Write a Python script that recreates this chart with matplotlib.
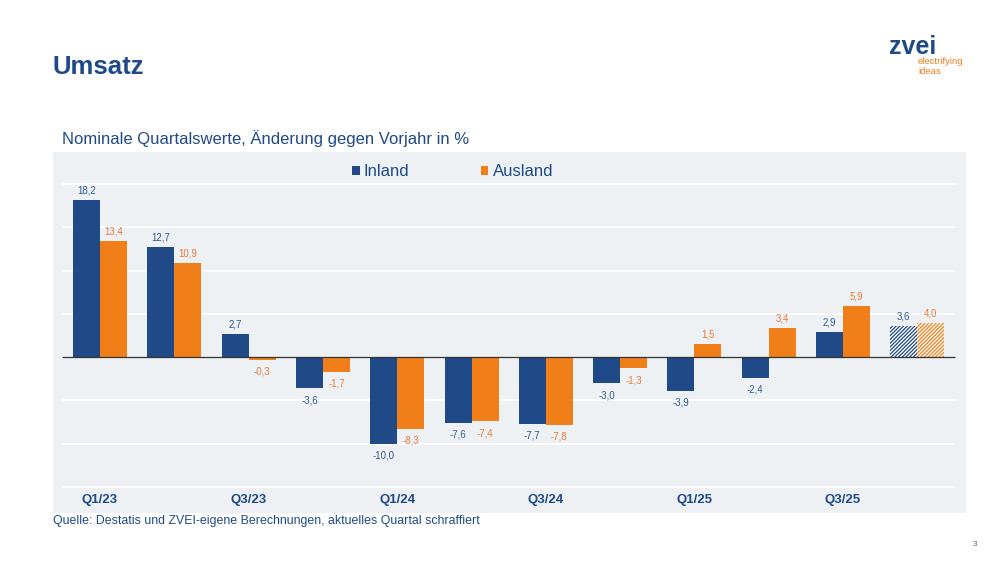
import numpy as np
import matplotlib.pyplot as plt

plt.rcParams['font.family'] = ['Liberation Sans', 'DejaVu Sans']
plt.rcParams['hatch.linewidth'] = 0.9

# data
quarters = ['Q1/23', 'Q2/23', 'Q3/23', 'Q4/23', 'Q1/24', 'Q2/24', 'Q3/24', 'Q4/24',
            'Q1/25', 'Q2/25', 'Q3/25', 'Q4/25']
inland = [18.2, 12.7, 2.7, -3.6, -10.0, -7.6, -7.7, -3.0, -3.9, -2.4, 2.9, 3.6]
ausland = [13.4, 10.9, -0.3, -1.7, -8.3, -7.4, -7.8, -1.3, 1.5, 3.4, 5.9, 4.0]
grid_vals = [20, 15, 10, 5, -5, -10, -15]

blue = '#1f4a87'
orange = '#f07f1a'
blue_lbl = '#2f5a8f'
orange_lbl = '#e8783a'
panel_bg = '#eef1f3'

fig = plt.figure(figsize=(10, 5.63), dpi=100)
ax = fig.add_axes([0.053, 1 - 513 / 563, 0.913, (513 - 152) / 563])
ax.set_facecolor(panel_bg)
for s in ax.spines.values():
    s.set_visible(False)
ax.set_xticks([])
ax.set_yticks([])

x = np.arange(len(quarters))
w = 0.363
ax.set_xlim(-0.633, 11.655)
ax.set_ylim(-18.0, 23.7)

ax.hlines(grid_vals, -0.51, 11.51, color='white', lw=1.2, zorder=1)
ax.hlines(0, -0.51, 11.51, color='#333333', lw=0.9, zorder=4)

n = len(quarters)
for i in range(n):
    hatched = (i == n - 1)  # current quarter hatched
    for val, off, col, lc in [(inland[i], -w / 2, blue, blue_lbl), (ausland[i], w / 2, orange, orange_lbl)]:
        if hatched:
            ax.bar(x[i] + off, val, w, facecolor='white', edgecolor=col, hatch='/////////', lw=0, zorder=3)
        else:
            ax.bar(x[i] + off, val, w, color=col, zorder=3)
        txt = f'{val:.1f}'.replace('.', ',')
        if val >= 0:
            ax.text(x[i] + off, val + 0.5, txt, ha='center', va='bottom', fontsize=7, color=lc)
        else:
            ax.text(x[i] + off, val - 0.8, txt, ha='center', va='top', fontsize=7, color=lc)

for i in range(0, n, 2):
    ax.text(x[i], -16.5, quarters[i], ha='center', va='center', fontsize=9.5, fontweight='bold', color=blue)

# legend
ax.bar([0], [0], color=blue, label='Inland')
ax.bar([0], [0], color=orange, label='Ausland')
fig.legend(loc='center left', bbox_to_anchor=(0.352, 1 - 172 / 563), ncol=2, frameon=False, fontsize=12,
           handlelength=0.45, handleheight=0.45, columnspacing=4.3, handletextpad=0.25,
           borderpad=0, borderaxespad=0, labelcolor=blue)

fig.text(0.053, 1 - 67 / 563, 'Umsatz', fontsize=18.5, fontweight='bold', color=blue, va='center')
fig.text(0.062, 1 - 139 / 563, 'Nominale Quartalswerte, Änderung gegen Vorjahr in %', fontsize=12,
         color=blue, va='center')
fig.text(0.053, 1 - 521 / 563, 'Quelle: Destatis und ZVEI-eigene Berechnungen, aktuelles Quartal schraffiert',
         fontsize=8.9, color=blue, va='center')
fig.text(0.975, 1 - 545 / 563, '3', fontsize=6, color='#666666', va='center', ha='center')

# logo
fig.text(0.889, 1 - 47 / 563, 'zvei', fontsize=18, color=blue, va='center', fontweight='bold')
fig.text(0.918, 1 - 62 / 563, 'electrifying', fontsize=6.8, color=orange, va='center')
fig.text(0.918, 1 - 71 / 563, 'ideas', fontsize=6.8, color=orange, va='center')

fig.savefig('out.png', dpi=100)
